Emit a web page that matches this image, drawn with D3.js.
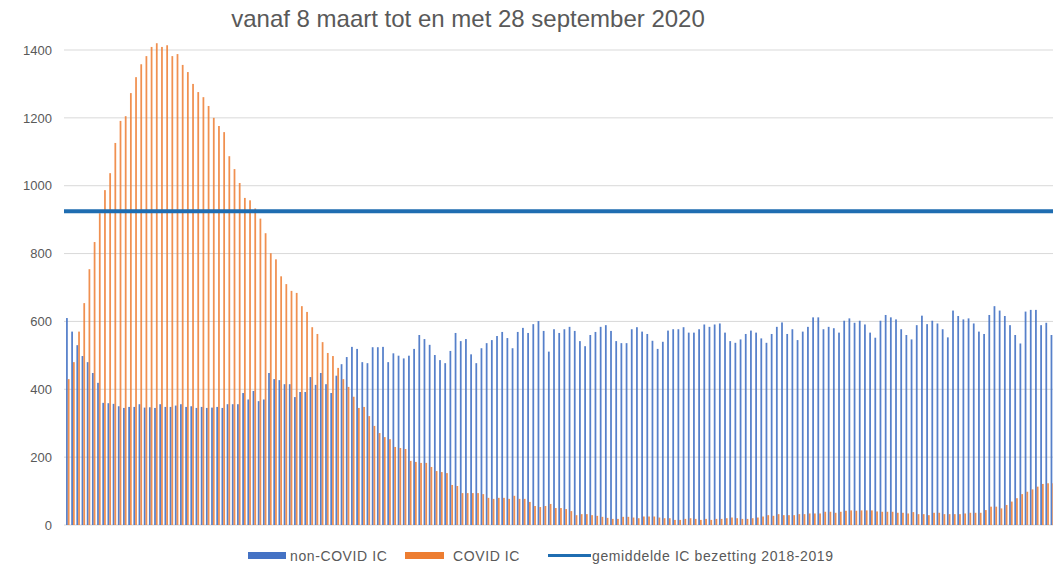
<!DOCTYPE html>
<html><head><meta charset="utf-8">
<script src="https://cdn.jsdelivr.net/npm/d3@7"></script>
<style>
html,body{margin:0;padding:0;background:#fff;}
svg{display:block;font-family:"Liberation Sans",Arial,sans-serif;}
</style></head>
<body><svg id="chart" width="1053" height="567"></svg>
<script>
// ---- data ----
const title = "vanaf 8 maart tot en met 28 september 2020";
const startDate = new Date(2020, 2, 8);
const nonCovidIC = [
610,570,530,498,480,448,419,360,359,357,350,345,348,348,356,346,347,345,356,348,
348,352,356,348,350,345,348,345,346,348,345,356,356,356,389,370,395,365,370,448,
430,427,415,415,377,392,392,436,413,448,415,389,440,474,495,525,519,480,477,524,
524,525,480,506,499,491,499,519,560,548,531,501,486,477,513,566,542,548,503,477,
521,536,545,557,569,551,521,569,581,566,592,601,572,511,577,566,577,584,572,542,
527,560,569,584,589,572,542,536,536,577,583,570,563,543,519,540,573,577,577,583,
567,567,577,591,584,591,594,567,542,537,547,563,573,567,550,537,563,584,597,563,
577,545,570,584,612,612,577,584,580,567,602,609,596,602,591,567,552,602,619,612,
606,577,560,547,589,617,592,602,594,577,553,632,616,606,609,594,570,563,619,645,
632,616,589,560,535,629,634,634,589,596,560
];
const covidIC = [
430,480,570,654,754,834,919,987,1037,1126,1191,1205,1273,1320,1358,1382,1409,1420,1409,1414,
1382,1388,1356,1335,1300,1276,1261,1235,1200,1176,1158,1087,1049,1008,964,957,933,903,860,801,
783,733,710,690,684,645,628,583,563,539,507,498,463,430,407,378,345,348,321,292,
271,259,253,230,227,224,189,186,183,183,171,159,156,153,118,115,94,94,94,94,
91,80,77,80,80,77,86,77,77,68,56,53,56,62,50,50,47,41,29,32,
32,29,27,24,21,18,18,24,24,22,20,25,25,25,22,20,20,15,15,18,
20,18,15,18,15,18,18,20,22,20,18,18,20,22,25,29,27,32,29,29,
29,32,32,34,34,34,39,39,36,39,42,43,42,43,43,43,40,39,39,39,
36,36,34,38,32,32,29,36,36,32,32,32,32,34,36,36,36,44,54,54,
49,59,69,79,91,98,105,113,121,123,123
];
const avgIC = 925;
const yTicks = [0,200,400,600,800,1000,1200,1400];
const seriesNames = ["non-COVID IC","COVID IC","gemiddelde IC bezetting 2018-2019"];
const colors = {nonCovid:"#4472C4", covid:"#ED7D31", avg:"#1F6DB1", text:"#595959", grid:"#d9d9d9"};

const days = nonCovidIC.map((_, i) => d3.timeDay.offset(startDate, i));

// ---- layout ----
const svg = d3.select("#chart");
const step = 5.184;
const x0 = 65;
const x = d3.scaleBand().domain(days.map(d => +d)).range([x0, x0 + step * days.length]).paddingInner(0.32).paddingOuter(0.2);
const xs = d3.scaleBand().domain(["nonCovid","covid"]).range([0, x.bandwidth()]);
const y = d3.scaleLinear().domain([0, 1400]).range([525, 50]);

// gridlines
svg.append("g").selectAll("line").data(yTicks).join("line")
  .attr("x1", 64).attr("x2", 1053)
  .attr("y1", d => y(d)).attr("y2", d => y(d))
  .attr("stroke", colors.grid).attr("stroke-width", 1);

// y axis
const yAxis = d3.axisLeft(y).tickValues(yTicks).tickSize(0).tickPadding(0).tickFormat(d3.format("d"));
const gy = svg.append("g").attr("transform", "translate(52,0)").call(yAxis);
gy.select(".domain").remove();
gy.selectAll("text").attr("fill", colors.text).style("font-size", "13px").style("font-family", "Liberation Sans, Arial, sans-serif");

// bars
const g = svg.append("g");
g.selectAll("rect.nc").data(days).join("rect").attr("class","nc")
  .attr("x", (d) => x(+d) + xs("nonCovid"))
  .attr("width", xs.bandwidth())
  .attr("y", (d, i) => y(nonCovidIC[i]))
  .attr("height", (d, i) => y(0) - y(nonCovidIC[i]))
  .attr("fill", colors.nonCovid).attr("fill-opacity", 0.9);
g.selectAll("rect.cv").data(days).join("rect").attr("class","cv")
  .attr("x", (d) => x(+d) + xs("covid"))
  .attr("width", xs.bandwidth())
  .attr("y", (d, i) => y(covidIC[i]))
  .attr("height", (d, i) => y(0) - y(covidIC[i]))
  .attr("fill", colors.covid).attr("fill-opacity", 0.85);

// average line
svg.append("line").attr("x1", 64).attr("x2", 1053)
  .attr("y1", y(avgIC)).attr("y2", y(avgIC))
  .attr("stroke", colors.avg).attr("stroke-width", 4);

// title
svg.append("text").attr("x", 468).attr("y", 27).attr("text-anchor", "middle")
  .attr("fill", colors.text).style("font-size", "24px").text(title);

// legend
const lg = svg.append("g").style("font-size", "14px").style("letter-spacing", "0.6px").attr("fill", colors.text);
lg.append("rect").attr("x", 248).attr("y", 552).attr("width", 38).attr("height", 7).attr("fill", colors.nonCovid);
lg.append("text").attr("x", 290).attr("y", 561).text(seriesNames[0]);
lg.append("rect").attr("x", 405).attr("y", 552).attr("width", 39).attr("height", 7).attr("fill", colors.covid);
lg.append("text").attr("x", 453).attr("y", 561).text(seriesNames[1]);
lg.append("line").attr("x1", 548).attr("x2", 591).attr("y1", 555.5).attr("y2", 555.5).attr("stroke", colors.avg).attr("stroke-width", 3);
lg.append("text").attr("x", 592).attr("y", 561).text(seriesNames[2]);
</script></body></html>
